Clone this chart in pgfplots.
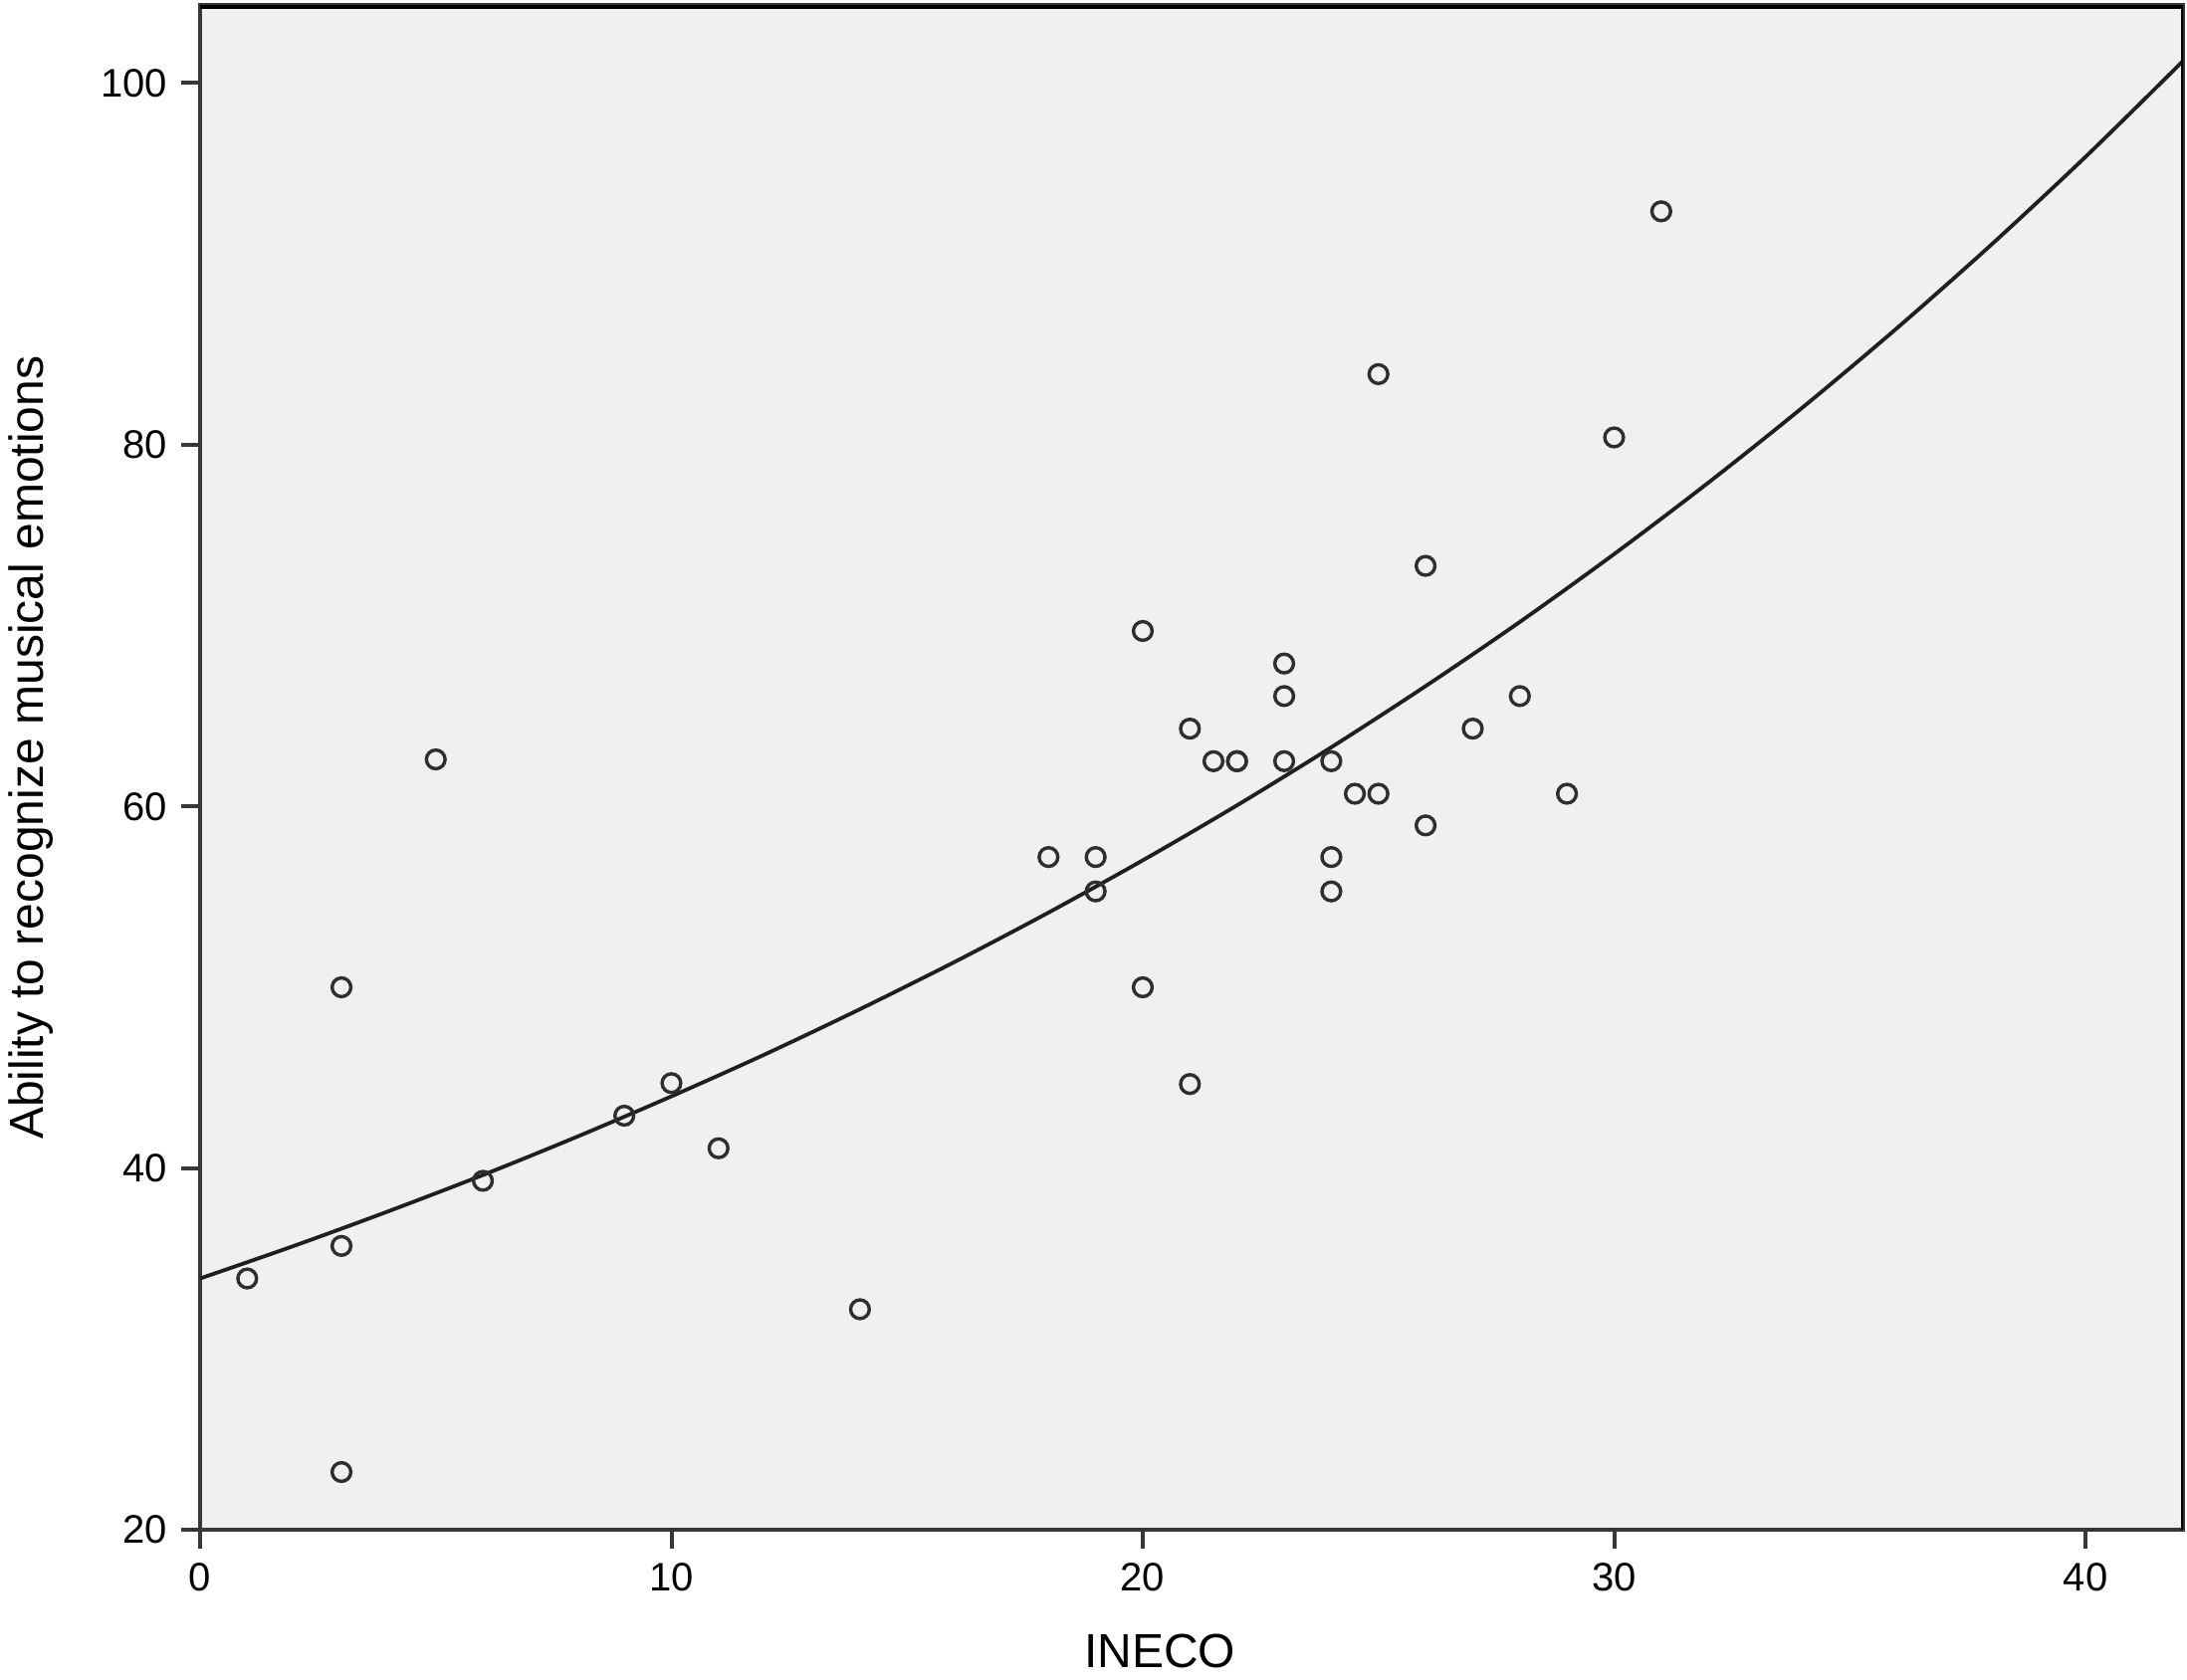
\documentclass[border=0pt]{standalone}
\usepackage{fontspec}
\setmainfont{Liberation Sans}
\usepackage{pgfplots}
\pgfplotsset{compat=1.18}
\definecolor{panelgray}{HTML}{F0F0F0}
\definecolor{linegray}{HTML}{383838}

\begin{document}
\begin{tikzpicture}
\begin{axis}[
    scale only axis,
    width=498pt, height=383pt,
    xmin=0, xmax=42.07,
    ymin=20, ymax=104.3,
    axis background/.style={fill=panelgray},
    axis line style={line width=0.9pt, color=linegray},
    xtick={0,10,20,30,40},
    ytick={20,40,60,80,100},
    xtick pos=bottom, ytick pos=left,
    tick align=outside,
    major tick length=4.7pt,
    tick style={line width=1pt, color=linegray},
    /pgf/number format/assume math mode=true,
    ticklabel style={font=\fontsize{10}{12}\selectfont},
    xlabel={INECO},
    ylabel={Ability to recognize musical emotions},
    label style={font=\fontsize{12}{14}\selectfont, inner sep=0pt},
    xlabel style={at={(axis description cs:0.484,-0.0901)}, anchor=base},
    ylabel style={at={(axis description cs:-0.0793,0.513)}, anchor=base},
    clip=true,
]

% fitted curve
\addplot[line width=0.95pt, color=black!88, smooth] coordinates {
    (0,33.90) (2,35.71) (4,37.62) (6,39.62) (8,41.74) (10,43.97)
    (12,46.31) (14,48.79) (16,51.39) (18,54.13) (20,57.02) (22,60.06)
    (24,63.27) (26,66.65) (28,70.20) (30,73.95) (32,77.90) (34,82.06)
    (36,86.44) (38,91.05) (40,95.91) (42,101.03) (42.2,101.56)
};

% observations
\addplot[only marks, mark=o, mark size=2.35pt,
    mark options={line width=0.85pt, color=black!82}] coordinates {
    (1,33.9) (3,23.2) (3,35.7) (3,50.0) (5,62.6) (6,39.3) (9,42.9)
    (10,44.7) (11,41.1) (14,32.2)
    (18,57.2) (19,57.2) (19,55.3) (20,69.7) (20,50.0) (21,64.3)
    (21,44.65) (21.5,62.5) (22,62.5) (22,62.5) (23,67.9) (23,66.1)
    (23,62.5) (24,62.5) (24,57.2) (24,55.3) (24.5,60.7) (25,60.7)
    (25,83.9) (26,73.3) (26,58.95) (27,64.3) (28,66.1) (29,60.7)
    (30,80.4) (31,92.9)
};

\draw[line width=2pt, black] (rel axis cs:0,1) -- (rel axis cs:1,1);
\draw[line width=0.9pt, black] (rel axis cs:1,0) -- (rel axis cs:1,1);
\end{axis}
\path (-50.25pt,-37.5pt) rectangle (499pt,384.3pt);
\end{tikzpicture}
\end{document}
